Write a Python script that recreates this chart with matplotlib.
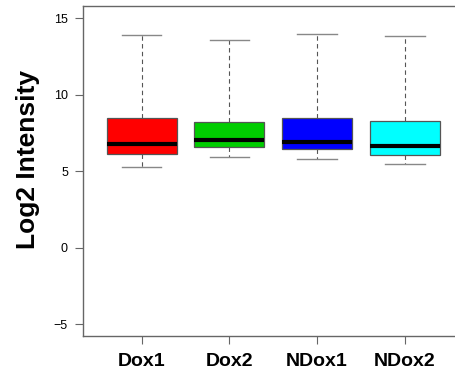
import matplotlib
matplotlib.use("Agg")
import matplotlib.pyplot as plt

# サンプル名と箱ひげ図の統計量
samples = ["Dox1", "Dox2", "NDox1", "NDox2"]
whisker_low = [5.30, 5.93, 5.78, 5.46]
q1 = [6.11, 6.61, 6.44, 6.08]
medians = [6.76, 7.03, 6.93, 6.63]
q3 = [8.46, 8.18, 8.46, 8.27]
whisker_high = [13.91, 13.56, 13.97, 13.80]
box_colors = ["#FF0000", "#00CD00", "#0000FF", "#00FFFF"]
yticks = [-5, 0, 5, 10, 15]

plt.rcParams["font.family"] = ["Liberation Sans", "DejaVu Sans"]

fig = plt.figure(figsize=(4.55, 3.76), dpi=100)
ax = fig.add_axes([0.183, 0.1064, 0.835, 0.878])

stats = []
for i, name in enumerate(samples):
    stats.append({
        "label": name,
        "whislo": whisker_low[i],
        "q1": q1[i],
        "med": medians[i],
        "q3": q3[i],
        "whishi": whisker_high[i],
        "fliers": [],
    })

bp = ax.bxp(stats, positions=range(1, len(samples) + 1), widths=0.8,
            patch_artist=True, showfliers=False,
            boxprops=dict(edgecolor="#555555", linewidth=0.9),
            whiskerprops=dict(color="#555555", linestyle=(0, (4, 3)), linewidth=0.8),
            capprops=dict(color="#888888", linewidth=1.0),
            medianprops=dict(color="black", linewidth=3.0, solid_capstyle="butt"),
            capwidths=0.45)
for patch, c in zip(bp["boxes"], box_colors):
    patch.set_facecolor(c)

ax.set_xlim(0.334, 4.666)
ax.set_ylim(-5.77, 15.8)
ax.set_yticks(yticks)
ax.set_xticks(range(1, len(samples) + 1))
ax.set_xticklabels(samples, fontsize=14, fontweight="bold")
ax.set_ylabel("Log2 Intensity", fontsize=19, fontweight="bold")
ax.yaxis.set_label_coords(-0.114, 0.536)

ax.spines["right"].set_visible(False)
for sp in ax.spines.values():
    sp.set_color("#666666")
    sp.set_linewidth(1.0)
ax.tick_params(axis="y", length=6, width=0.8, color="#666666", labelsize=9, pad=5)
ax.tick_params(axis="x", length=6, width=0.8, color="#666666", pad=6)

fig.savefig("out.png", dpi=100)
